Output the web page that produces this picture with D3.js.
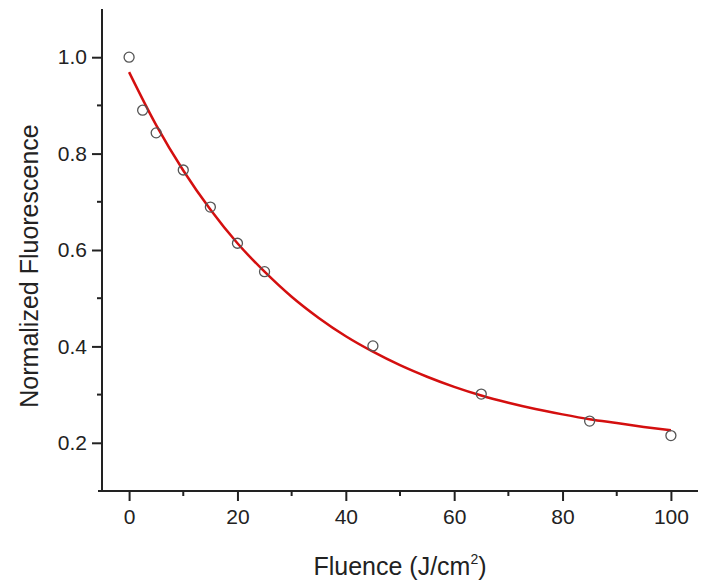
<!DOCTYPE html>
<html>
<head>
<meta charset="utf-8">
<script src="https://cdn.jsdelivr.net/npm/d3@7"></script>
<style>
  body {margin: 0; background: #fff;}
  text {font-family: 'Liberation Sans', Arial, sans-serif; fill: #222;}
</style>
</head>
<body>
<div id="chart"></div>
<script>

// measured points
var fluence = [0, 2.5, 5, 10, 15, 20, 25, 45, 65, 85, 100]
var fluor = [1.0, 0.89, 0.843, 0.766, 0.689, 0.614, 0.555, 0.401, 0.301, 0.245, 0.215]

// fitted curve
var fitX = [0, 5, 10, 15, 20, 25, 30, 35, 40, 45, 50, 55, 60, 65, 70, 75, 80, 85, 90, 95, 100]
var fitY = [0.969, 0.859, 0.765, 0.684, 0.614, 0.555, 0.503, 0.459, 0.421, 0.389, 0.361,
  0.337, 0.316, 0.298, 0.283, 0.270, 0.259, 0.249, 0.241, 0.233, 0.226]

var yTicks = [0.2, 0.4, 0.6, 0.8, 1.0]
var yMinor = [0.3, 0.5, 0.7, 0.9]
var xTicks = [0, 20, 40, 60, 80, 100]
var xMinor = [10, 30, 50, 70, 90]

var width = 717, height = 581
var margin = {left: 102, right: 19, top: 9, bottom: 90}

var svg = d3.select('#chart').append('svg')
  .attr('width', width)
  .attr('height', height)

var x = d3.scaleLinear()
  .domain([-5, 105])
  .range([margin.left, width - margin.right])

var y = d3.scaleLinear()
  .domain([0.1, 1.1])
  .range([height - margin.bottom, margin.top])

var axisY0 = y(0.1)

// y axis
var yAxis = d3.axisLeft(y).tickValues(yTicks).tickSize(10).tickPadding(5)
  .tickFormat(d3.format('.1f'))
var gy = svg.append('g').attr('transform', 'translate(' + margin.left + ',0)').call(yAxis)
gy.append('g').selectAll('line').data(yMinor).join('line')
  .attr('x1', -5).attr('x2', 0)
  .attr('y1', d => y(d)).attr('y2', d => y(d))

// x axis
var xAxis = d3.axisBottom(x).tickValues(xTicks).tickSize(10).tickPadding(8)
var gx = svg.append('g').attr('transform', 'translate(0,' + axisY0 + ')').call(xAxis)
gx.append('g').selectAll('line').data(xMinor).join('line')
  .attr('y1', 0).attr('y2', 5)
  .attr('x1', d => x(d)).attr('x2', d => x(d))

svg.selectAll('.domain').remove()
svg.append('line')
  .attr('x1', margin.left).attr('x2', margin.left)
  .attr('y1', y(1.1)).attr('y2', axisY0 + 1)
svg.append('line')
  .attr('x1', margin.left - 4).attr('x2', x(105))
  .attr('y1', axisY0).attr('y2', axisY0)

svg.selectAll('line').attr('stroke', '#222').attr('stroke-width', 2)
svg.selectAll('.tick text').attr('font-size', 21).attr('fill', '#222')
  .attr('font-family', "'Liberation Sans', Arial, sans-serif")

// fit line
var fit = fitX.map((d, i) => [d, fitY[i]])
var line = d3.line()
  .x(d => x(d[0]))
  .y(d => y(d[1]))
  .curve(d3.curveMonotoneX)

svg.append('path')
  .datum(fit)
  .attr('d', line)
  .attr('fill', 'none')
  .attr('stroke', '#d40f0f')
  .attr('stroke-width', 2.5)

svg.append('g').selectAll('circle')
  .data(fluence)
  .join('circle')
  .attr('cx', d => x(d))
  .attr('cy', (d, i) => y(fluor[i]))
  .attr('r', 5)
  .attr('fill', 'none')
  .attr('stroke', '#555')
  .attr('stroke-width', 1.3)

// titles
var xt = svg.append('text')
  .attr('x', (margin.left + x(105)) / 2)
  .attr('y', 575)
  .attr('text-anchor', 'middle')
  .attr('font-size', 25)
xt.append('tspan').text('Fluence (J/cm')
xt.append('tspan').text('2').attr('font-size', 14).attr('dy', -11)
xt.append('tspan').text(')').attr('dy', 11)

svg.append('text')
  .attr('transform', 'translate(38,' + 266 + ') rotate(-90)')
  .attr('text-anchor', 'middle')
  .attr('font-size', 25)
  .text('Normalized Fluorescence')

</script>
</body>
</html>
